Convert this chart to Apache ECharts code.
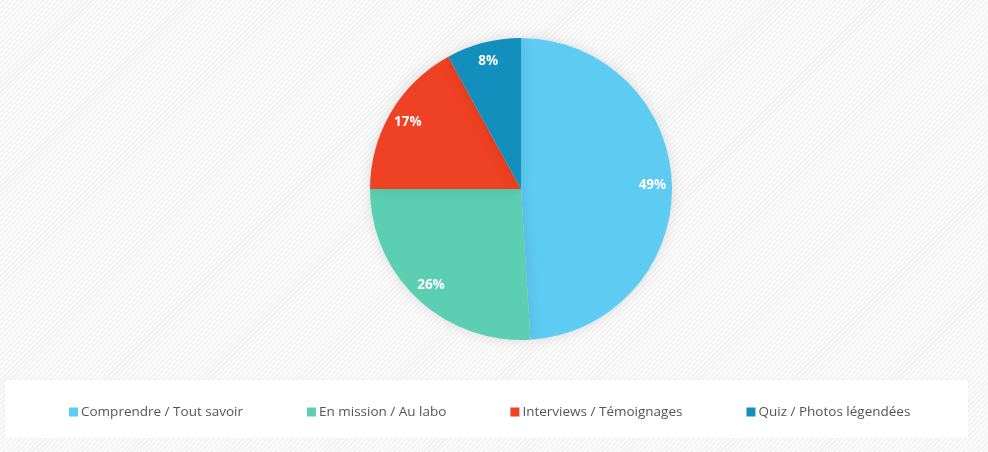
<!DOCTYPE html>
<html><head><meta charset="utf-8">
<script src="https://cdn.jsdelivr.net/npm/echarts@6/dist/echarts.min.js"></script>
<style>
html,body{margin:0;padding:0;}
body{width:988px;height:452px;background:repeating-linear-gradient(135deg,#fbfbfb 0px,#fbfbfb 2px,#f2f2f2 2px,#f2f2f2 3.5px);}
#c{width:988px;height:452px;}
</style></head>
<body><div id="c"></div>
<script>
var categories = ['Comprendre / Tout savoir', 'En mission / Au labo', 'Interviews / Témoignages', 'Quiz / Photos légendées'];
var values = [49, 26, 17, 8];
var colors = ['#5ecbf3', '#5ccfb2', '#ef4123', '#128fbd'];

var data = categories.map(function (c, i) { return { name: c, value: values[i] }; });
var chart = echarts.init(document.getElementById('c'), null, { renderer: 'canvas' });
chart.setOption({
  backgroundColor: 'transparent',
  animation: false,
  color: colors,
  graphic: [{
    type: 'rect', left: 5, top: 380, z: -1,
    shape: { width: 963, height: 58 },
    style: { fill: '#ffffff', shadowBlur: 3, shadowColor: 'rgba(0,0,0,0.04)' }
  }],
  legend: {
    data: categories,
    left: 64, top: 400,
    icon: 'rect', itemWidth: 9, itemHeight: 9, itemGap: 64,
    textStyle: { color: '#555555', fontSize: 13.5, fontFamily: 'Open Sans', padding: [0, 0, 0, -2] }
  },
  series: [{
    type: 'pie',
    center: [521, 189], radius: [0, 151],
    startAngle: 90, clockwise: true,
    data: data,
    label: { show: false }, labelLine: { show: false },
    itemStyle: { shadowBlur: 14, shadowColor: 'rgba(0,0,0,0.12)' },
    emphasis: { disabled: true }
  }, {
    type: 'pie',
    center: [521, 189], radius: [106, 151],
    startAngle: 90, clockwise: true,
    data: data, silent: true,
    legendHoverLink: false,
    itemStyle: { color: 'rgba(0,0,0,0)' },
    label: { show: true, position: 'inside', formatter: '{c}%', color: '#ffffff', fontSize: 13.5, fontWeight: 'bold', fontFamily: 'Open Sans' },
    labelLine: { show: false },
    emphasis: { disabled: true }
  }]
});
</script></body></html>
